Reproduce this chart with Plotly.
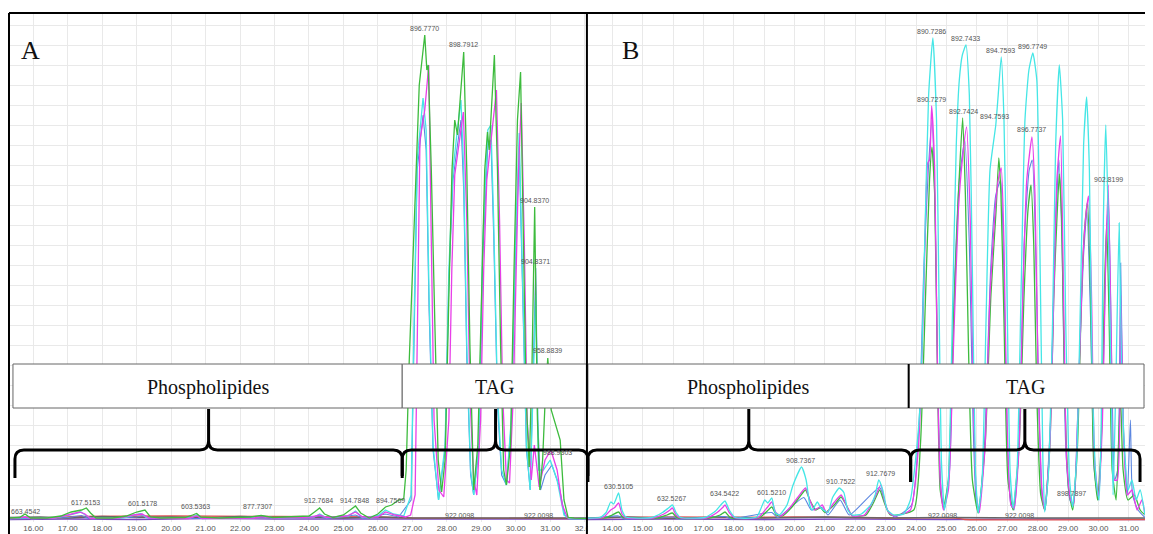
import plotly.graph_objects as go

# The page body has an 8 px margin, so the figure is drawn 8 px in and 8 px smaller.
OX, OY = 8, 8
FW, FH = 1153 - OX, 534 - OY

# ---------------- DATA (retention time [min], relative intensity) ----------------
GREEN_A = [(15.30,0.4),(15.60,0.5),(15.76,1.2),(15.92,0.4),(16.40,0.4),(16.80,0.8),(17.10,1.6),(17.40,2.0),(17.54,2.4),
           (17.66,1.4),(17.82,0.4),(18.30,0.4),(18.70,0.8),(19.00,1.6),(19.24,2.0),(19.40,0.6),(19.70,0.4),(20.40,0.5),
           (20.62,1.0),(20.74,1.3),(20.86,0.6),(21.40,0.4),(22.30,0.6),(22.61,0.9),(22.95,0.5),(23.50,0.6),(24.00,0.8),
           (24.16,1.6),(24.31,2.4),(24.45,1.2),(24.70,0.5),(25.00,1.0),(25.20,2.0),(25.35,2.8),(25.50,1.4),(25.75,0.4),
           (26.00,1.2),(26.22,2.6),(26.40,3.0),(26.60,4.0),(26.75,4.2),(26.82,10),(26.90,30),(27.05,58),(27.20,87),
           (27.36,97),(27.42,90),(27.46,91),(27.55,70),(27.65,40),(27.75,12),(27.85,5.6),(27.95,12),(28.06,45),(28.15,70),
           (28.23,80),(28.31,77),(28.49,93.6),(28.58,70),(28.67,35),(28.78,6),(28.90,15),(29.00,45),(29.10,70),(29.18,77.6),
           (29.23,74),(29.38,93),(29.47,70),(29.56,35),(29.65,10),(29.73,7),(29.85,15),(29.95,50),(30.05,80),(30.14,89.6),
           (30.22,60),(30.30,25),(30.39,10.6),(30.47,30),(30.55,62.6),(30.63,20),(30.70,6),(30.78,12),(30.86,25),(30.93,32.4),
           (31.03,22),(31.17,19),(31.29,16),(31.40,4),(31.52,0.5),(31.70,0.4),(32.07,0.3)]
MAGENTA_A = [(15.30,0.3),(15.76,0.6),(15.95,0.3),(16.60,0.4),(17.00,1.0),(17.34,1.6),(17.50,1.2),(17.65,0.3),(18.50,0.4),
             (18.90,1.0),(19.16,1.2),(19.35,0.4),(20.50,0.3),(20.74,0.8),(20.90,0.3),(22.40,0.4),(22.61,0.7),(23.00,0.4),
             (24.10,0.6),(24.31,1.0),(24.50,0.5),(25.10,0.8),(25.35,1.6),(25.55,0.6),(26.00,0.6),(26.22,1.6),(26.50,1.0),
             (26.80,0.6),(26.95,1.0),(27.08,5),(27.17,50),(27.22,76),(27.36,82),(27.475,91),(27.54,60),(27.63,20),(27.77,6),
             (27.91,4.6),(28.06,20),(28.145,50),(28.23,69),(28.48,81.6),(28.58,60),(28.67,25),(28.78,8),(28.87,5),(28.98,20),
             (29.07,50),(29.16,68),(29.44,86),(29.53,60),(29.62,25),(29.73,8),(29.82,7.4),(29.93,25),(30.02,55),(30.08,70),
             (30.16,83.4),(30.25,55),(30.33,20),(30.45,8),(30.54,15),(30.68,6.6),(30.85,12),(31.02,14),(31.20,10),(31.35,3),
             (31.50,0.5),(32.07,0.3)]
CYAN_A = [(15.30,0.3),(15.76,0.5),(15.95,0.3),(16.60,0.4),(17.05,1.0),(17.38,1.6),(17.55,0.8),(17.70,0.3),(18.60,0.4),
          (18.95,1.0),(19.12,1.3),(19.30,0.4),(20.55,0.4),(20.74,1.0),(20.90,0.3),(22.40,0.5),(22.61,0.8),(23.00,0.4),
          (24.15,0.6),(24.31,1.2),(24.50,0.5),(25.15,0.8),(25.35,1.8),(25.55,0.5),(26.00,0.8),(26.22,2.0),(26.45,1.2),
          (26.75,0.8),(26.965,5),(27.05,40),(27.14,72),(27.31,84.4),(27.40,78),(27.485,45),(27.60,15),(27.76,4),(27.95,15),
          (28.06,50),(28.18,70),(28.29,77),(28.41,84),(28.49,70),(28.58,35),(28.69,10),(28.78,5),(28.93,15),(29.04,55),
          (29.19,78),(29.28,79),(29.36,60),(29.47,25),(29.59,10),(29.73,7),(29.87,20),(29.99,55),(30.10,77.4),(30.19,50),
          (30.31,15),(30.42,6),(30.52,30),(30.58,45),(30.66,10),(30.80,10),(31.00,12),(31.20,8),(31.40,1),(31.55,0.3),(32.07,0.3)]
BLUE_A = [(15.30,0.2),(16.00,0.3),(17.00,0.5),(17.40,0.9),(17.60,0.3),(19.00,0.6),(19.20,0.9),(19.40,0.3),(21.00,0.3),
          (22.61,0.6),(23.00,0.3),(24.31,0.8),(24.50,0.3),(25.35,1.0),(25.60,0.3),(26.22,1.2),(26.60,0.6),(26.965,4),
          (27.05,38),(27.14,70),(27.31,81),(27.40,74),(27.485,42),(27.60,14),(27.76,4),(27.95,14),(28.06,48),(28.18,68),
          (28.29,74),(28.41,80),(28.49,66),(28.58,32),(28.69,9),(28.78,5),(28.93,14),(29.04,52),(29.19,75),(29.28,76),
          (29.36,57),(29.47,23),(29.59,9),(29.73,7),(29.87,19),(29.99,52),(30.10,74),(30.19,47),(30.31,14),(30.42,6),
          (30.52,32),(30.58,50.4),(30.64,20),(30.72,6),(30.85,9),(31.05,11),(31.25,7),(31.42,1),(31.60,0.2),(32.07,0.2)]
PURPLE_A = [(15.30,0.1),(17.00,0.2),(19.00,0.1),(21.00,0.3),(23.00,0.2),(25.00,0.2),(27.00,0.3),(29.00,0.2),(31.00,0.3),(32.07,0.2)]
RED_A = [(15.30,0.3),(16.50,0.4),(17.20,0.7),(20.00,0.8),(23.00,0.7),(26.00,0.6),(27.00,0.4),(32.07,0.3)]
GRAY_A = [(15.30,0.5),(16.20,0.6),(17.00,0.4),(18.00,0.7),(19.00,0.5),(20.00,0.6),(21.00,0.4),(22.00,0.7),(23.00,0.5),
          (24.00,0.6),(25.00,0.4),(26.00,0.6),(27.00,0.4),(32.07,0.4)]

CYAN_B = [(13.17,0.4),(13.60,0.5),(13.80,1.5),(13.95,3.6),(14.05,3.2),(14.21,5.4),(14.32,2.0),(14.45,0.6),(15.30,0.5),
          (15.65,1.5),(15.85,2.4),(15.98,3.0),(16.10,1.5),(16.25,0.5),(17.05,0.5),(17.40,1.8),(17.60,3.2),(17.71,3.8),
          (17.85,2.0),(18.05,0.5),(18.75,0.6),(19.02,4.0),(19.12,3.4),(19.25,4.4),(19.36,1.5),(19.50,1.0),(19.75,3.0),
          (19.95,7.0),(20.23,10.6),(20.38,8.0),(20.50,3.0),(20.58,2.0),(20.75,3.6),(20.85,2.5),(20.95,2.0),(21.10,1.5),
          (21.25,4.5),(21.47,6.4),(21.62,5.5),(21.75,2.0),(21.90,1.0),(22.20,1.2),(22.50,3.0),(22.65,5.0),(22.77,8.0),
          (22.90,6.0),(23.05,2.0),(23.26,1.0),(23.59,1.2),(23.81,4),(23.98,12),(24.14,24),(24.28,55),(24.41,85),(24.55,96.4),
          (24.67,80),(24.76,40),(24.83,12),(24.93,2),(25.06,8),(25.19,40),(25.32,75),(25.42,88),(25.52,93),(25.64,95),
          (25.75,85),(25.85,50),(25.95,10),(26.04,1.4),(26.17,8),(26.30,40),(26.43,70),(26.62,79),(26.70,85),(26.80,92.6),
          (26.89,80),(26.99,45),(27.09,10),(27.19,2.4),(27.32,10),(27.45,45),(27.58,80),(27.71,90),(27.84,93.4),(27.97,88),
          (28.07,55),(28.17,12),(28.23,1.6),(28.36,10),(28.49,40),(28.59,75),(28.71,91),(28.82,80),(28.92,40),(29.05,8),
          (29.15,2.6),(29.28,12),(29.41,45),(29.51,75),(29.61,84.6),(29.70,70),(29.79,30),(29.92,8),(30.02,4),(30.09,20),
          (30.16,60),(30.24,79),(30.32,60),(30.42,25),(30.48,5),(30.58,30),(30.68,59.4),(30.76,30),(30.85,15),(30.97,6),
          (31.10,8),(31.24,4),(31.37,6),(31.53,1)]
MAGENTA_B = [(13.17,0.3),(13.70,0.5),(13.95,2.0),(14.08,2.5),(14.21,3.4),(14.32,1.2),(14.45,0.4),(15.35,0.4),(15.70,1.2),
             (15.90,2.0),(15.98,2.4),(16.10,1.0),(16.25,0.4),(17.10,0.4),(17.45,1.5),(17.65,2.6),(17.71,3.0),(17.85,1.5),
             (18.05,0.4),(18.80,0.5),(19.10,2.5),(19.25,3.6),(19.38,1.5),(19.55,0.8),(19.85,2.5),(20.10,4.5),(20.36,6.4),
             (20.50,4.0),(20.65,2.0),(20.80,2.5),(20.91,3.0),(21.05,1.5),(21.30,3.5),(21.53,5.0),(21.70,3.0),(21.90,0.8),
             (22.30,1.0),(22.60,4.0),(22.84,7.0),(22.95,4.0),(23.10,1.5),(23.30,0.8),(23.81,2),(24.08,15),(24.25,45),
             (24.38,71.4),(24.44,72),(24.51,82.8),(24.61,70),(24.70,30),(24.79,8),(24.90,2),(25.06,6),(25.23,35),(25.39,62),
             (25.52,72),(25.66,78.6),(25.78,60),(25.88,25),(25.98,5),(26.08,1.5),(26.27,15),(26.43,45),(26.60,62),(26.70,68),
             (26.80,70.4),(26.89,55),(26.99,20),(27.12,3),(27.22,2.4),(27.39,15),(27.51,45),(27.64,68),(27.81,76.6),(27.91,65),
             (28.01,30),(28.14,6),(28.23,2),(28.40,15),(28.53,45),(28.63,68),(28.75,76.8),(28.85,45),(28.95,12),(29.08,4),
             (29.18,3),(29.34,25),(29.47,50),(29.57,60),(29.67,64.8),(29.77,45),(29.87,12),(30.00,4.5),(30.13,20),(30.23,50),
             (30.32,67),(30.42,35),(30.52,8),(30.62,8),(30.73,45),(30.81,20),(30.95,5),(31.10,6),(31.27,2),(31.43,4),(31.53,1)]
GREEN_B = [(13.17,0.3),(13.80,0.5),(14.00,1.0),(14.21,1.6),(14.35,0.5),(15.50,0.4),(15.80,1.0),(15.98,1.4),(16.15,0.4),
           (17.20,0.4),(17.55,1.0),(17.71,1.6),(17.90,0.4),(18.85,0.5),(19.10,1.8),(19.25,2.6),(19.40,1.0),(19.60,0.8),
           (19.90,2.5),(20.15,4.5),(20.36,6.0),(20.50,4.0),(20.70,2.0),(20.85,2.5),(21.00,1.5),(21.30,3.0),(21.53,4.6),
           (21.70,3.0),(21.90,0.8),(22.35,1.0),(22.60,3.5),(22.80,6.0),(22.95,3.5),(23.15,1.0),(23.92,2),(24.14,15),
           (24.31,45),(24.44,68),(24.52,74.6),(24.61,65),(24.70,30),(24.79,6),(24.90,2.5),(25.06,8),(25.23,40),(25.39,65),
           (25.53,80.4),(25.62,65),(25.72,35),(25.85,8),(26.04,1.4),(26.27,15),(26.46,45),(26.63,62),(26.72,72.4),(26.79,65),
           (26.89,40),(27.02,8),(27.19,2),(27.39,15),(27.55,45),(27.68,62),(27.78,67),(27.87,55),(27.97,25),(28.10,5),
           (28.23,2),(28.40,15),(28.53,45),(28.63,60),(28.71,69.2),(28.79,60),(28.89,25),(29.02,6),(29.15,2),(29.31,15),
           (29.44,45),(29.54,58),(29.64,63.6),(29.74,45),(29.84,12),(29.97,4),(30.09,15),(30.19,45),(30.27,59.4),(30.35,40),
           (30.45,10),(30.58,4),(30.72,25),(30.81,10),(30.97,4),(31.18,5),(31.37,2),(31.53,1)]
BLUE_B = [(13.17,0.2),(14.21,0.8),(14.40,0.2),(16.00,0.6),(16.20,0.2),(17.71,0.7),(17.90,0.2),(19.25,1.5),(19.45,0.5),
          (20.30,4.5),(20.55,2.0),(20.90,2.5),(21.10,1.0),(21.50,4.0),(21.80,1.0),(22.80,6.5),(23.05,2.0),(23.30,0.6),
          (23.85,3),(24.10,20),(24.25,50),(24.40,70),(24.52,80),(24.63,60),(24.72,25),(24.82,6),(24.92,2),(25.10,10),
          (25.25,45),(25.42,68),(25.60,76),(25.75,55),(25.87,20),(25.97,4),(26.06,1.5),(26.25,15),(26.45,50),(26.62,65),
          (26.78,68),(26.90,45),(27.00,15),(27.12,3),(27.22,2),(27.40,18),(27.55,55),(27.72,70),(27.82,72),(27.95,50),
          (28.05,20),(28.15,4),(28.24,2),(28.42,20),(28.56,55),(28.70,72),(28.80,55),(28.92,15),(29.06,4),(29.17,3),
          (29.35,28),(29.50,52),(29.62,62),(29.74,40),(29.86,10),(30.00,4),(30.14,25),(30.25,55),(30.33,64),(30.44,30),
          (30.53,8),(30.63,10),(30.73,51.4),(30.82,18),(30.95,5),(31.05,20),(31.12,5),(31.30,2),(31.53,0.5)]
PURPLE_B = [(13.17,0.1),(16.00,0.2),(19.00,0.1),(22.00,0.2),(25.00,0.1),(28.00,0.2),(31.53,0.1)]
RED_B = [(13.17,0.3),(14.00,0.5),(16.00,0.6),(18.00,0.5),(20.00,0.6),(22.00,0.5),(23.50,0.4),(25.30,0.4),(25.60,0.1),(31.53,0.1)]
GRAY_B = [(13.17,0.4),(14.50,0.6),(16.00,0.3),(17.50,0.6),(19.00,0.4),(21.00,0.6),(23.00,0.4),(25.00,0.5),(28.00,0.4),(31.53,0.4)]

# peak labels: (text, retention time, intensity)
LABELS_A = [("663.4542",15.78,1.8),("617.5153",17.51,3.6),("601.5178",19.16,3.4),("603.5363",20.71,2.8),
            ("877.7307",22.50,2.8),("912.7684",24.29,4.0),("914.7848",25.32,4.0),("894.7569",26.36,4.0),
            ("896.7770",27.34,98.4),("898.7912",28.49,95.2),("904.8370",30.54,63.9),("904.8371",30.58,51.7),
            ("958.8839",30.93,34.0),("988.9303",31.20,13.5),("922.0098",28.38,1.0),("922.0098",30.65,1.0)]
LABELS_B = [("630.5105",14.22,6.7),("632.5267",15.96,4.3),("634.5422",17.68,5.3),("601.5210",19.24,5.5),
            ("908.7367",20.21,12.0),("910.7522",21.52,7.7),("912.7679",22.84,9.4),
            ("890.7286",24.52,97.7),("892.7433",25.62,96.3),("894.7593",26.79,93.9),("896.7749",27.84,94.7),
            ("890.7279",24.49,84.1),("892.7424",25.55,81.7),("894.7593",26.57,80.7),("896.7737",27.78,78.1),
            ("902.8199",30.34,68.1),("898.7897",29.11,5.3),("922.0098",24.87,1.0),("922.0098",27.40,1.0)]

TICKS_A = list(range(16, 33))
TICKS_B = list(range(14, 32))
PANEL_NAMES = ["A", "B"]
GROUP_NAMES = ["Phospholipides", "TAG"]

# ---------------- STYLE ----------------
COL = dict(green="#3dbb3d", magenta="#e83ee8", cyan="#45e6e6", blue="#5b86e0",
           purple="#7a48c0", red="#e05050", gray="#666666")

fig = go.Figure()

def add(points, color, xa, ya, shape="linear", width=1.3):
    fig.add_trace(go.Scatter(x=[p[0] for p in points], y=[p[1] for p in points], mode="lines",
                             line=dict(color=color, width=width, shape=shape, smoothing=0.5),
                             xaxis=xa, yaxis=ya, hoverinfo="skip", showlegend=False))

for pts, c in [(PURPLE_A, "purple"), (RED_A, "red"), (GRAY_A, "gray"), (BLUE_A, "blue"),
               (CYAN_A, "cyan"), (MAGENTA_A, "magenta"), (GREEN_A, "green")]:
    add(pts, COL[c], "x", "y", width=1.1 if c == "blue" else 1.3)
for pts, c in [(PURPLE_B, "purple"), (RED_B, "red"), (GRAY_B, "gray"), (BLUE_B, "blue"),
               (GREEN_B, "green"), (MAGENTA_B, "magenta"), (CYAN_B, "cyan")]:
    add(pts, COL[c], "x2", "y2", shape="spline", width=1.1 if c == "blue" else 1.3)

# screen pixel -> paper fraction
def px(x): return (x - OX) / FW
def py(y): return 1 - (y - OY) / FH

ydom = [py(522), py(13)]
common_x = dict(showgrid=True, gridcolor="#e9e9e9", gridwidth=1, zeroline=False, showline=False,
                ticks="", tickfont=dict(family="Liberation Sans, Arial", size=8, color="#555"),
                tickformat=".2f")
common_y = dict(showgrid=True, gridcolor="#e9e9e9", gridwidth=1, zeroline=False, showline=False,
                showticklabels=False, ticks="", range=[-0.4, 101.4], tick0=3, dtick=4, domain=ydom)

fig.update_layout(
    width=FW, height=FH, margin=dict(l=0, r=0, t=0, b=0),
    paper_bgcolor="white", plot_bgcolor="white", showlegend=False,
    xaxis=dict(common_x, domain=[px(9), px(591)], range=[15.294, 32.066], tickvals=TICKS_A, anchor="y"),
    yaxis=dict(common_y, anchor="x"),
    xaxis2=dict(common_x, domain=[px(591), 1.0], range=[13.167, 31.53], tickvals=TICKS_B, anchor="y2"),
    yaxis2=dict(common_y, anchor="x2"),
)

shapes = []
# hide the part of the last panel-A tick label that runs past the divider
shapes.append(dict(type="rect", xref="paper", yref="paper", x0=px(592), x1=px(603), y0=py(534), y1=py(523),
                   fillcolor="white", line=dict(width=0)))

# group boxes
BOXES = [(13, 405, 0), (405, 591, 1), (592, 915, 0), (915, 1152, 1)]
annotations = []
for x0, x1, g in BOXES:
    shapes.append(dict(type="rect", xref="paper", yref="paper", x0=px(x0), x1=px(x1), y0=py(408), y1=py(364),
                       fillcolor="white", line=dict(color="#666", width=1)))
    annotations.append(dict(x=px((x0 + x1) / 2), y=py(387), xref="paper", yref="paper", text=GROUP_NAMES[g],
                            xanchor="center", yanchor="middle", showarrow=False,
                            font=dict(family="Liberation Serif, Times New Roman", size=20, color="#111")))
shapes.append(dict(type="line", xref="paper", yref="paper", x0=px(915), x1=px(915), y0=py(408), y1=py(364),
                   line=dict(color="black", width=2)))

# curly braces
def brace(x0, x1, xt, yt, ym, ye, r=9):
    P = lambda x, y: f"{px(x):.5f},{py(y):.5f}"
    return (f"M {P(x0, ye)} L {P(x0, ym + r)} Q {P(x0, ym)} {P(x0 + r, ym)} L {P(xt - r, ym)} "
            f"Q {P(xt, ym)} {P(xt, ym - r)} L {P(xt, yt)} M {P(xt, ym - r)} Q {P(xt, ym)} {P(xt + r, ym)} "
            f"L {P(x1 - r, ym)} Q {P(x1, ym)} {P(x1, ym + r)} L {P(x1, ye)}")

for b in [(15, 405, 210, 409, 450, 478), (405, 592, 499, 409, 450, 476),
          (592, 917, 754, 409, 450, 482), (917, 1148, 1032, 409, 450, 482)]:
    shapes.append(dict(type="path", xref="paper", yref="paper", path=brace(*b),
                       line=dict(color="black", width=3)))

# frame lines
for x0, y0, x1, y1 in [(9, 13, 1153, 13), (9, 13, 9, 534), (591, 13, 591, 534)]:
    shapes.append(dict(type="line", xref="paper", yref="paper", x0=px(x0), y0=py(y0), x1=px(x1), y1=py(y1),
                       line=dict(color="black", width=2)))

# panel letters
for name, x in zip(PANEL_NAMES, [31, 635]):
    annotations.append(dict(x=px(x), y=py(51), xref="paper", yref="paper", text=name, showarrow=False,
                            xanchor="center", yanchor="middle",
                            font=dict(family="Liberation Serif, Times New Roman", size=26, color="#111")))

# peak labels
for labels, xr, yr in [(LABELS_A, "x", "y"), (LABELS_B, "x2", "y2")]:
    for txt, t, v in labels:
        annotations.append(dict(x=t, y=v, xref=xr, yref=yr, text=txt, showarrow=False,
                                xanchor="center", yanchor="middle",
                                font=dict(family="Liberation Sans, Arial", size=7, color="#555")))

fig.update_layout(shapes=shapes, annotations=annotations)
fig.write_html("out.html")
